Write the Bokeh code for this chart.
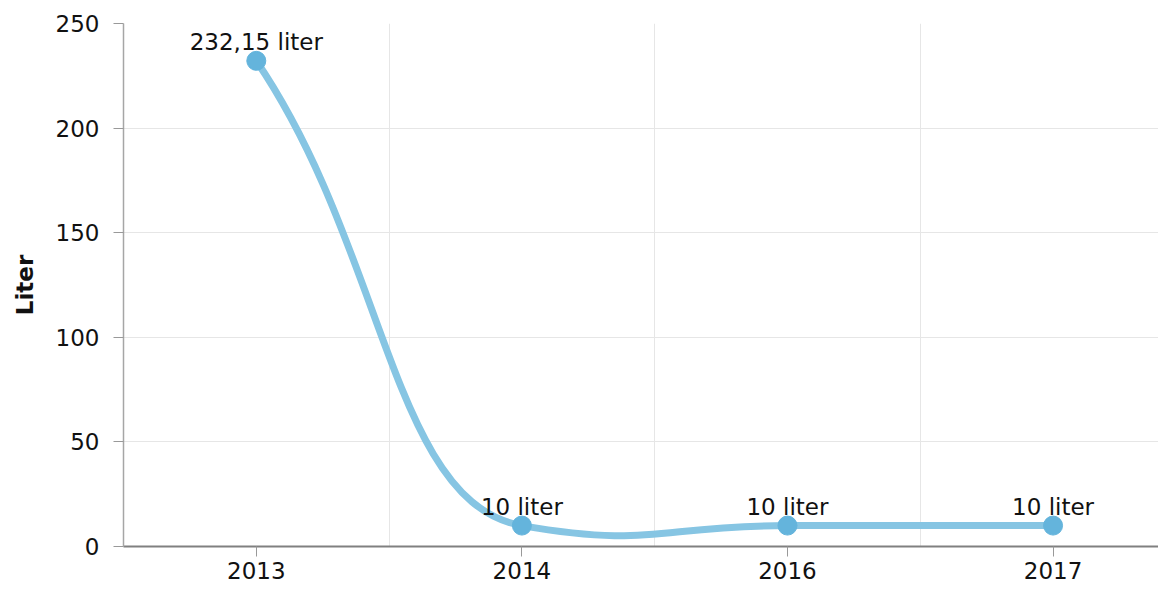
from bokeh.plotting import figure
from bokeh.models import Range1d, FixedTicker, ColumnDataSource
from bokeh.embed import file_html
from bokeh.resources import INLINE
from bokeh.core.properties import value

# ---- data ----
years = ["2013", "2014", "2016", "2017"]
liters = [232.15, 10, 10, 10]
y_ticks = [0, 50, 100, 150, 200, 250]
unit = "liter"
axis_title = "Liter"

# ---- styling constants ----
FONT = "DejaVu Sans"
FS = "23px"
LINE_COLOR = "#86c5e3"
MARKER_COLOR = "#64b4dc"
GRID_COLOR = "#e6e6e6"
TEXT_COLOR = "#111111"

# category positions (band centres on a numeric axis)
xs = [i + 0.5 for i in range(len(years))]
labels = [f"{v:g}".replace(".", ",") + " " + unit for v in liters]

# smooth curve: cubic bezier control points derived from the data
H = 0.49          # horizontal control distance (fraction of band)
K_INNER = 0.2     # tangent damping for interior points
K_END = 0.84      # tangent damping for end points
n = len(xs)
slopes = []
for i in range(n):
    if i == 0:
        m = K_END * (liters[1] - liters[0]) / (xs[1] - xs[0])
    elif i == n - 1:
        m = K_END * (liters[-1] - liters[-2]) / (xs[-1] - xs[-2])
    else:
        m = K_INNER * (liters[i + 1] - liters[i - 1]) / (xs[i + 1] - xs[i - 1])
    slopes.append(m)

seg = dict(x0=[], y0=[], x1=[], y1=[], cx0=[], cy0=[], cx1=[], cy1=[])
for i in range(n - 1):
    dx = xs[i + 1] - xs[i]
    seg["x0"].append(xs[i]); seg["y0"].append(liters[i])
    seg["x1"].append(xs[i + 1]); seg["y1"].append(liters[i + 1])
    seg["cx0"].append(xs[i] + H * dx); seg["cy0"].append(liters[i] + slopes[i] * H * dx)
    seg["cx1"].append(xs[i + 1] - H * dx); seg["cy1"].append(liters[i + 1] - slopes[i + 1] * H * dx)

p = figure(width=1158, height=589, output_backend="svg", toolbar_location=None,
           x_range=Range1d(0, 3.897), y_range=Range1d(0, 250),
           min_border_left=123, min_border_right=0, min_border_top=23, min_border_bottom=43)
p.outline_line_color = None
p.background_fill_color = "white"
p.border_fill_color = "white"

# grids
p.xgrid.ticker = FixedTicker(ticks=[1, 2, 3])
p.xgrid.grid_line_color = GRID_COLOR
p.xgrid.grid_line_width = 1
p.ygrid.ticker = FixedTicker(ticks=y_ticks)
p.ygrid.grid_line_color = GRID_COLOR
p.ygrid.grid_line_width = 1

# x axis
p.xaxis.ticker = FixedTicker(ticks=xs)
p.xaxis.major_label_overrides = {x: y for x, y in zip(xs, years)}
p.xaxis.minor_tick_line_color = None
p.xaxis.major_tick_out = 10
p.xaxis.major_tick_in = 0
p.xaxis.major_tick_line_color = "#999999"
p.xaxis.axis_line_color = "#808080"
p.xaxis.axis_line_width = 2
p.xaxis.major_label_standoff = 5
p.xaxis.major_label_text_font = FONT
p.xaxis.major_label_text_font_size = FS
p.xaxis.major_label_text_color = TEXT_COLOR

# y axis
p.yaxis.ticker = FixedTicker(ticks=y_ticks)
p.yaxis.minor_tick_line_color = None
p.yaxis.major_tick_out = 10
p.yaxis.major_tick_in = 0
p.yaxis.major_tick_line_color = "#999999"
p.yaxis.axis_line_color = "#a6a6a6"
p.yaxis.axis_line_width = 1.5
p.yaxis.major_label_standoff = 14
p.yaxis.major_label_text_font = FONT
p.yaxis.major_label_text_font_size = FS
p.yaxis.major_label_text_color = TEXT_COLOR
p.yaxis.axis_label = axis_title
p.yaxis.axis_label_text_font = FONT
p.yaxis.axis_label_text_font_size = FS
p.yaxis.axis_label_text_font_style = "bold"
p.yaxis.axis_label_text_color = TEXT_COLOR
p.yaxis.axis_label_standoff = 15

# line
p.bezier(x0="x0", y0="y0", x1="x1", y1="y1", cx0="cx0", cy0="cy0", cx1="cx1", cy1="cy1",
         source=ColumnDataSource(seg), line_color=LINE_COLOR, line_width=7, line_cap="round")

src = ColumnDataSource(dict(x=xs, y=liters, label=labels))
p.scatter(x="x", y="y", source=src, size=19, fill_color=MARKER_COLOR, line_color=MARKER_COLOR)
p.text(x="x", y="y", text="label", source=src, text_align="center", text_baseline="alphabetic",
       y_offset=-19, text_font=value(FONT), text_font_size=FS, text_color=TEXT_COLOR)

open("out.html", "w").write(file_html(p, INLINE))
